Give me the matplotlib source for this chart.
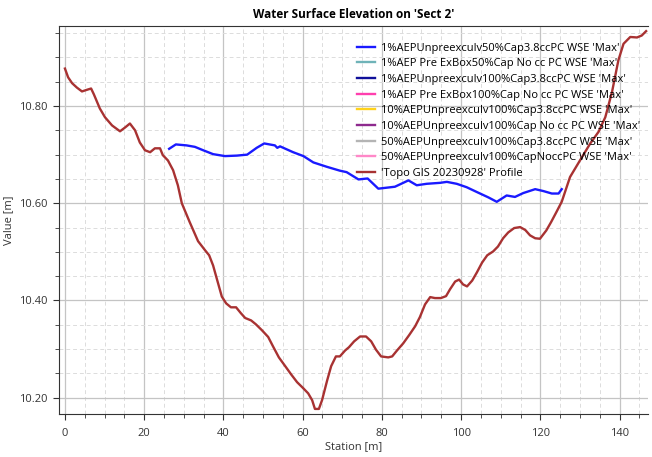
import numpy as np
import matplotlib
matplotlib.use("Agg")
import matplotlib.pyplot as plt
from matplotlib.ticker import MultipleLocator, FormatStrFormatter

# terrain profile
topo_sta = [0, 0.8, 1.8, 3, 4.3, 5.8, 6.6, 7.3, 8.8, 10.1, 11.9, 13.9, 15.2, 16.4, 17.7,
            18.9, 20.2, 21.5, 22.7, 24, 24.7, 26, 27.3, 28.5, 29.5, 31.5, 33.6, 35.4, 36.4,
            37.4, 38.6, 39.6, 40.7, 41.9, 43.2, 44.4, 45.5, 47, 48.2, 49.7, 51.3, 52.5, 54,
            55.6, 57.1, 58.6, 60.1, 61.4, 62.4, 63.1, 64.1, 64.9, 66.2, 67.2, 68.4, 69.4,
            70.7, 71.7, 73, 74.5, 76, 77.3, 78.5, 79.8, 81.6, 82.6, 83.8, 85.4, 86.9, 88.4,
            89.6, 90.9, 92.2, 93.4, 94.9, 96.2, 97.2, 98.5, 99.5, 100.5, 101.5, 102.8, 104,
            105.3, 106.6, 108.1, 109.3, 110.6, 111.9, 113.4, 114.9, 116.2, 117.4, 118.7,
            119.9, 121.5, 122.7, 124, 125.4, 127.5, 130, 132.6, 134.7, 136.4, 138.1, 139.7,
            141, 142.7, 144.4, 145.6, 146.7]
topo_val = [10.877, 10.859, 10.847, 10.838, 10.830, 10.834, 10.836, 10.824, 10.795, 10.777,
            10.760, 10.748, 10.756, 10.764, 10.750, 10.725, 10.709, 10.705, 10.713, 10.713,
            10.699, 10.688, 10.668, 10.637, 10.600, 10.561, 10.522, 10.503, 10.493, 10.472,
            10.437, 10.408, 10.394, 10.386, 10.386, 10.374, 10.364, 10.359, 10.351, 10.339,
            10.325, 10.306, 10.283, 10.265, 10.248, 10.232, 10.220, 10.209, 10.195, 10.177,
            10.177, 10.195, 10.236, 10.265, 10.285, 10.285, 10.297, 10.304, 10.316, 10.326,
            10.326, 10.316, 10.299, 10.285, 10.283, 10.285, 10.297, 10.312, 10.329, 10.347,
            10.366, 10.392, 10.407, 10.405, 10.405, 10.409, 10.423, 10.439, 10.443, 10.433,
            10.429, 10.441, 10.458, 10.478, 10.493, 10.501, 10.511, 10.528, 10.540, 10.549,
            10.551, 10.545, 10.534, 10.528, 10.527, 10.544, 10.561, 10.581, 10.603, 10.654,
            10.688, 10.723, 10.747, 10.777, 10.829, 10.894, 10.928, 10.942, 10.941, 10.945,
            10.954]

# water surface, 1% AEP 50% cap
wse_sta = [26.3, 28, 30.7, 32.8, 34.9, 37.4, 40.4, 43.4, 46, 48.4, 50.3, 53, 53.6, 54.3,
           57.6, 60.2, 62.7, 66.1, 69.4, 71.1, 74.1, 76.4, 79.1, 81.2, 83.3, 86.7, 88.8,
           91.3, 94.7, 96.4, 98.9, 101.4, 104, 106.9, 109, 111.5, 113.6, 115.7, 118.7,
           120.8, 122.9, 124.6, 125.4]
wse_val = [10.712, 10.721, 10.719, 10.716, 10.709, 10.701, 10.697, 10.698, 10.700, 10.714,
           10.723, 10.719, 10.714, 10.717, 10.705, 10.697, 10.684, 10.675, 10.667, 10.664,
           10.649, 10.651, 10.630, 10.632, 10.634, 10.647, 10.637, 10.640, 10.642, 10.644,
           10.640, 10.633, 10.623, 10.612, 10.603, 10.616, 10.613, 10.621, 10.629, 10.625,
           10.620, 10.620, 10.629]

labels = ["1%AEPUnpreexculv50%Cap3.8ccPC WSE 'Max'",
          "1%AEP Pre ExBox50%Cap No cc PC WSE 'Max'",
          "1%AEPUnpreexculv100%Cap3.8ccPC WSE 'Max'",
          "1%AEP Pre ExBox100%Cap No cc PC WSE 'Max'",
          "10%AEPUnpreexculv100%Cap3.8ccPC WSE 'Max'",
          "10%AEPUnpreexculv100%Cap No cc PC WSE 'Max'",
          "50%AEPUnpreexculv100%Cap3.8ccPC WSE 'Max'",
          "50%AEPUnpreexculv100%CapNoccPC WSE 'Max'",
          "'Topo GIS 20230928' Profile"]
colors = ["#1a1aff", "#6fb3b8", "#10109a", "#ff3fae", "#ffd21a", "#8e2a8e",
          "#b4b4b4", "#ff88c8", "#a83232"]

plt.rcParams['font.family'] = ['Open Sans', 'DejaVu Sans']

fig = plt.figure(figsize=(6.52, 4.57), dpi=100)
ax = fig.add_axes([0.0905, 0.0935, 0.9035, 0.849])

series = [(wse_sta, wse_val)] + [([], [])] * 7 + [(topo_sta, topo_val)]
for (s, v), lab, c in zip(series, labels, colors):
    ax.plot(s, v, color=c, lw=1.7, label=lab)

ax.set_xlim(-1.5, 147.2)
ax.set_ylim(10.166, 10.964)
ax.xaxis.set_major_locator(MultipleLocator(20))
ax.xaxis.set_minor_locator(MultipleLocator(5))
ax.yaxis.set_major_locator(MultipleLocator(0.2))
ax.yaxis.set_minor_locator(MultipleLocator(0.05))
ax.yaxis.set_major_formatter(FormatStrFormatter('%.2f'))

ax.grid(which='major', color='#c4c4c4', lw=0.9)
ax.grid(which='minor', color='#dcdcdc', lw=0.7, ls=(0, (4, 3)))
ax.set_axisbelow(True)

for side in ['left', 'bottom', 'top']:
    ax.spines[side].set_color('#333333')
ax.spines['right'].set_visible(False)
ax.tick_params(which='major', length=4.5, color='#333333', labelsize=8, labelcolor='#333333')
ax.tick_params(which='minor', length=3, color='#333333')
ax.tick_params(axis='x', pad=5.5)

ax.set_xlabel('Station [m]', fontsize=8, color='#333333', labelpad=1.5)
ax.set_ylabel('Value [m]', fontsize=8, color='#333333', labelpad=4)
ax.set_title("Water Surface Elevation on 'Sect 2'", fontsize=8.5, fontweight='bold', pad=6)

ax.legend(loc='upper right', bbox_to_anchor=(0.998, 0.975), frameon=False, fontsize=8,
          handlelength=1.7, handletextpad=0.5, labelspacing=0.42, borderaxespad=0.2)

fig.savefig('out.png', dpi=100)
